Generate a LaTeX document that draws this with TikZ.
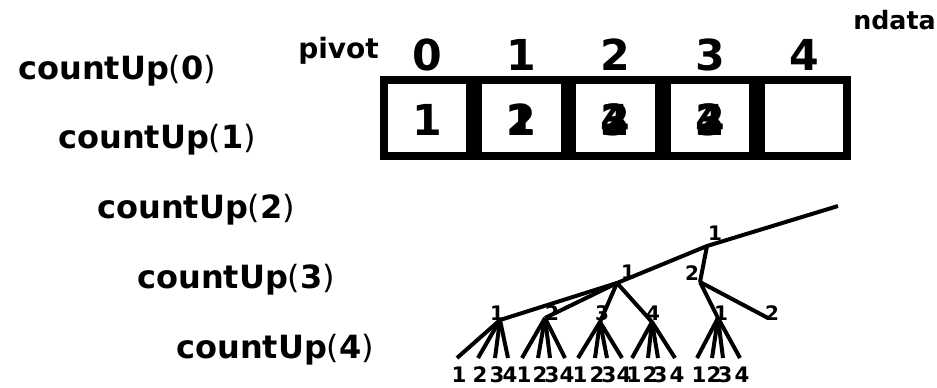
\documentclass[tikz,border=0pt]{standalone}
\usepackage{fontspec}
\setmainfont{DejaVu Sans}
\usepackage{tikz}
\tikzset{
  callname/.style={anchor=base west,inner sep=0pt,font=\fontsize{24}{24}\selectfont},
  tag/.style={anchor=base west,inner sep=0pt,font=\fontsize{#1}{#1}\selectfont\bfseries},
  idx/.style={anchor=base,inner sep=0pt,font=\fontsize{32}{32}\selectfont\bfseries},
  cellbox/.style={draw,line width=6pt,inner sep=0pt,minimum width=64.8pt,minimum height=57pt},
  edge/.style={line width=3pt},
  small/.style={inner sep=0pt,font=\fontsize{15}{15}\selectfont\bfseries},
  leafnum/.style={anchor=base,inner sep=0pt,font=\fontsize{16}{16}\selectfont\bfseries}
}

\begin{document}
\begin{tikzpicture}[x=0.75pt,y=-0.75pt]
  \useasboundingbox (0,0) rectangle (937,387);
  \node[callname] (cu0) at (18,79)  {\textbf{countUp}(\textbf{0})};
  \node[callname] (cu1) at (58,148) {\textbf{countUp}(\textbf{1})};
  \node[callname] (cu2) at (97,218) {\textbf{countUp}(\textbf{2})};
  \node[callname] (cu3) at (137,288) {\textbf{countUp}(\textbf{3})};
  \node[callname] (cu4) at (176,358) {\textbf{countUp}(\textbf{4})};
  \node[tag=21] (pivot) at (298,58) {pivot};
  \node[tag=19] (ndata) at (853,29) {ndata};

  \node[cellbox] (cell0) at (427,118)   {};
  \node[cellbox] (cell1) at (521.3,118) {};
  \node[cellbox] (cell2) at (615.6,118) {};
  \node[cellbox] (cell3) at (709.9,118) {};
  \node[cellbox] (cell4) at (804.2,118) {};
  \node[idx] (i0) at (427,70)   {0};
  \node[idx] (i1) at (521.3,70) {1};
  \node[idx] (i2) at (615.6,70) {2};
  \node[idx] (i3) at (709.9,70) {3};
  \node[idx] (i4) at (804.2,70) {4};
  \node[idx] (v0)  at (427,135)   {1};
  \node[idx] (v1a) at (521.3,135) {1};
  \node[idx] (v1b) at (521.3,135) {2};
  \node[idx] (v2a) at (615.6,135) {2};
  \node[idx] (v2b) at (615.6,135) {3};
  \node[idx] (v2c) at (615.6,135) {4};
  \node[idx] (v3a) at (709.9,135) {2};
  \node[idx] (v3b) at (709.9,135) {3};
  \node[idx] (v3c) at (709.9,135) {4};

  \coordinate (root) at (838,206);
  \coordinate (a) at (707,246);
  \coordinate (b) at (617,283);
  \coordinate (c) at (500,320);
  \coordinate (d) at (700,282);
  \coordinate (e) at (718,318);
  \coordinate (f) at (768,318);
  \coordinate (b2) at (545,318);
  \coordinate (b3) at (600,322);
  \coordinate (b4) at (652,322);
  \draw[edge] (root) -- (a) -- (b) -- (c);
  \draw[edge] (a) -- (d);
  \draw[edge] (d) -- (e);
  \draw[edge] (d) -- (f);
  \draw[edge] (b) -- (b2);
  \draw[edge] (b) -- (b3);
  \draw[edge] (b) -- (b4);
  \node[small] (la) at (715,233) {1};
  \node[small] (lb) at (628,272) {1};
  \node[small] (lc) at (497,313) {1};
  \node[small] (lb2) at (552,313) {2};
  \node[small] (lb3) at (602,313) {3};
  \node[small] (lb4) at (653,313) {4};
  \node[small] (ld) at (692,273) {2};
  \node[small] (le) at (721,313) {1};
  \node[small] (lf) at (772,313) {2};

  \foreach \p/\xs in {c/{457,478,495,508},b2/{522,538,550,565},b3/{578,595,607,622},b4/{632,648,658,675},e/{697,712,723,740}} {
    \foreach \x [count=\i] in \xs {
      \coordinate (\p leaf\i) at (\x,358);
      \draw[edge] (\p) -- (\p leaf\i);
      \node[leafnum] (\p num\i) at (\x+2,382) {\i};
    }
  }
\end{tikzpicture}
\end{document}
